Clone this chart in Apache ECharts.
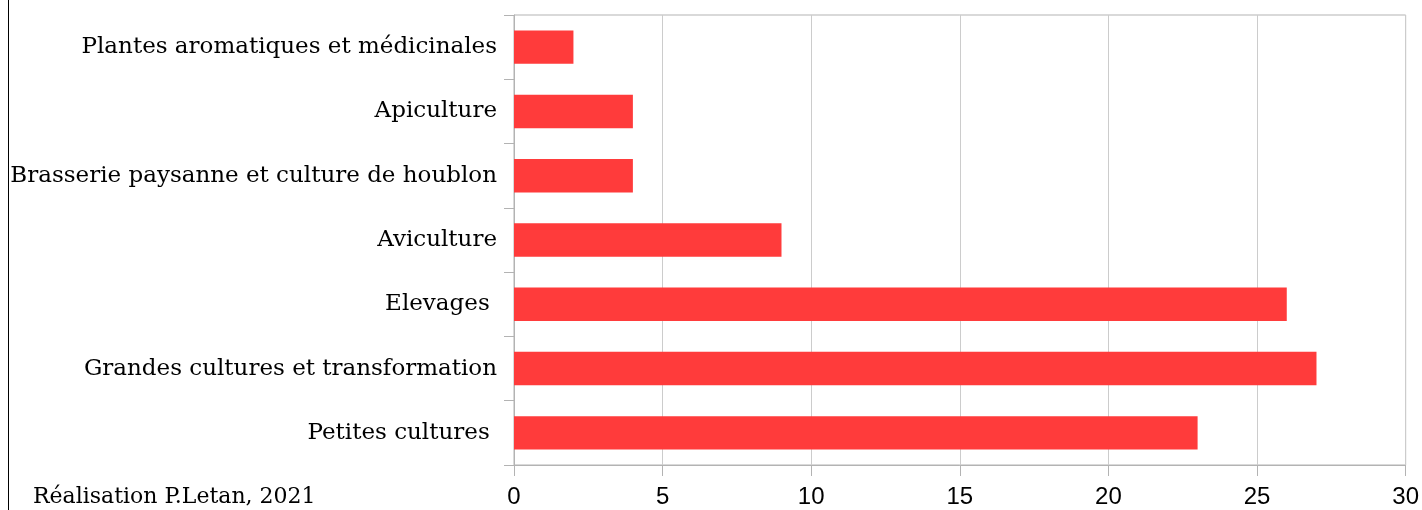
<!DOCTYPE html>
<html>
<head>
<meta charset="utf-8">
<script src="https://cdn.jsdelivr.net/npm/echarts@6/dist/echarts.min.js"></script>
<style>html,body{margin:0;padding:0;background:#fff;}#c{width:1422px;height:510px;}</style>
</head>
<body>
<div id="c"></div>
<script>
const categories = ["Petites cultures ", "Grandes cultures et transformation", "Elevages ", "Aviculture", "Brasserie paysanne et culture de houblon", "Apiculture", "Plantes aromatiques et médicinales"];
const values = [23, 27, 26, 9, 4, 4, 2];
const xTicks = [0, 5, 10, 15, 20, 25, 30];
const credit = "Réalisation P.Letan, 2021";

const chart = echarts.init(document.getElementById('c'), null, {renderer: 'canvas'});
chart.setOption({
  animation: false,
  backgroundColor: '#fff',
  grid: {left: 514, right: 16, top: 15, bottom: 45, show: true, borderColor: '#b3b3b3', borderWidth: 1},
  xAxis: {
    type: 'value', min: xTicks[0], max: xTicks[xTicks.length - 1], interval: 5,
    axisLine: {show: true, lineStyle: {color: '#b3b3b3'}},
    axisTick: {show: true, length: 11, lineStyle: {color: '#b3b3b3'}},
    splitLine: {show: true, lineStyle: {color: '#cccccc'}},
    axisLabel: {color: '#000', fontFamily: 'Liberation Sans', fontSize: 24, margin: 20}
  },
  yAxis: {
    type: 'category', data: categories,
    axisLine: {show: true, lineStyle: {color: '#b3b3b3'}},
    axisTick: {show: true, length: 10, lineStyle: {color: '#b3b3b3'}},
    axisLabel: {color: '#000', fontFamily: 'DejaVu Serif', fontSize: 23, margin: 17}
  },
  series: [{
    type: 'bar', data: values, barWidth: '52%',
    itemStyle: {color: '#ff3b3b'}
  }],
  graphic: [
    {type: 'line', shape: {x1: 8.5, y1: 0, x2: 8.5, y2: 510}, style: {stroke: '#000', lineWidth: 1}},
    {type: 'text', left: 33, top: 486, style: {text: credit, fill: '#000', font: '22px "DejaVu Serif"'}}
  ]
});
</script>
</body>
</html>
